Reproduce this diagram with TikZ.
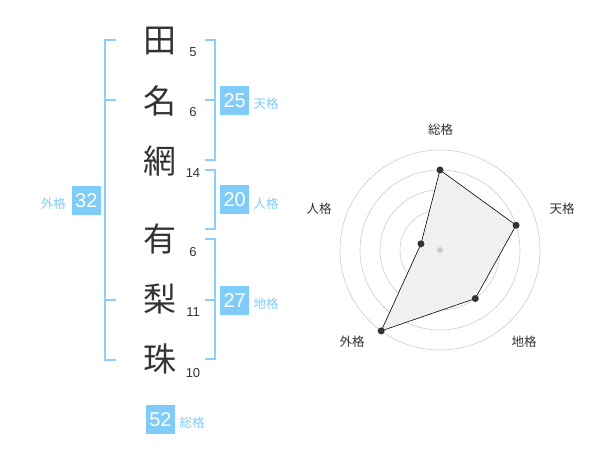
\documentclass[tikz,border=0pt]{standalone}
\usepackage{fontspec}
\setmainfont{Liberation Sans}
\newfontfamily\jp{Noto Sans CJK JP}
\definecolor{kakublue}{HTML}{80CCF8}
\definecolor{lineblue}{HTML}{8CCFFA}
\definecolor{ink}{HTML}{333333}
\begin{document}
\begin{tikzpicture}[x=1pt,y=-1pt,
kanji/.style={text=ink,inner sep=0pt,font=\jp\fontsize{33}{33}\selectfont},
num/.style={text=ink,inner sep=0pt,font=\fontsize{13}{13}\selectfont},
kaku/.style={fill=kakublue,text=white,minimum size=29pt,inner sep=0pt,font=\fontsize{20}{20}\selectfont},
lab/.style={text=kakublue,inner sep=0pt,font=\jp\fontsize{12.5}{12.5}\selectfont},
rlab/.style={text=ink,inner sep=0pt,font=\jp\fontsize{12.5}{12.5}\selectfont},
brk/.style={draw=lineblue,line width=1.8pt}]
\useasboundingbox(0,0)rectangle(600,470);
\draw(160,41)node[kanji](k1){田};
\draw(160,101)node[kanji](k2){名};
\draw(160,161)node[kanji](k3){網};
\draw(160,239)node[kanji](k4){有};
\draw(160,299)node[kanji](k5){梨};
\draw(160,359)node[kanji](k6){珠};
\draw(193,52)node[num](n1){5};
\draw(193,112)node[num](n2){6};
\draw(193,173)node[num](n3){14};
\draw(193,252.5)node[num](n4){6};
\draw(193,312.5)node[num](n5){11};
\draw(193,373)node[num](n6){10};
\draw[brk](116,40)--(105,40)--(105,360)--(116,360)(105,100)--(116,100)(105,300)--(116,300);
\draw[brk](205,40)--(215,40)--(215,160)--(205,160)(215,100)--(205,100);
\draw[brk](205,170)--(215,170)--(215,229)--(205,229);
\draw[brk](205,239)--(215,239)--(215,359)--(205,359)(215,300)--(205,300);
\draw(234.7,100.3)node[kaku](ten){25};
\draw(266,104)node[lab](lten){天格};
\draw(234.7,200)node[kaku](jin){20};
\draw(266,204)node[lab](ljin){人格};
\draw(234.7,300.5)node[kaku](chi){27};
\draw(266,303.5)node[lab](lchi){地格};
\draw(86.3,200.5)node[kaku](gai){32};
\draw(53.3,204)node[lab](lgai){外格};
\draw(160.5,419.5)node[kaku](sou){52};
\draw(192,422.5)node[lab](lsou){総格};
\coordinate(c)at(440,250);
\foreach \r in {20,40,...,100}
\draw[gray!40,line width=.6pt](c)circle(\r pt);
\path(c)+(-90:80)coordinate(psou)+(-18:80)coordinate(pten)+(54:60)coordinate(pchi)
+(126:100)coordinate(pgai)+(198:20)coordinate(pjin);
\draw[fill=black!6,draw=black,line width=.6pt](psou)--(pten)--(pchi)--(pgai)--(pjin)--cycle;
\foreach \p in {psou,pten,pchi,pgai,pjin}
\fill[ink](\p)circle(3.5pt);
\fill[gray!40](c)circle(3pt);
\draw(440.7,130)node[rlab](rsou){総格};
\draw(562,209)node[rlab](rten){天格};
\draw(524,342)node[rlab](rchi){地格};
\draw(352,342)node[rlab](rgai){外格};
\draw(319,209)node[rlab](rjin){人格};
\end{tikzpicture}
\end{document}
